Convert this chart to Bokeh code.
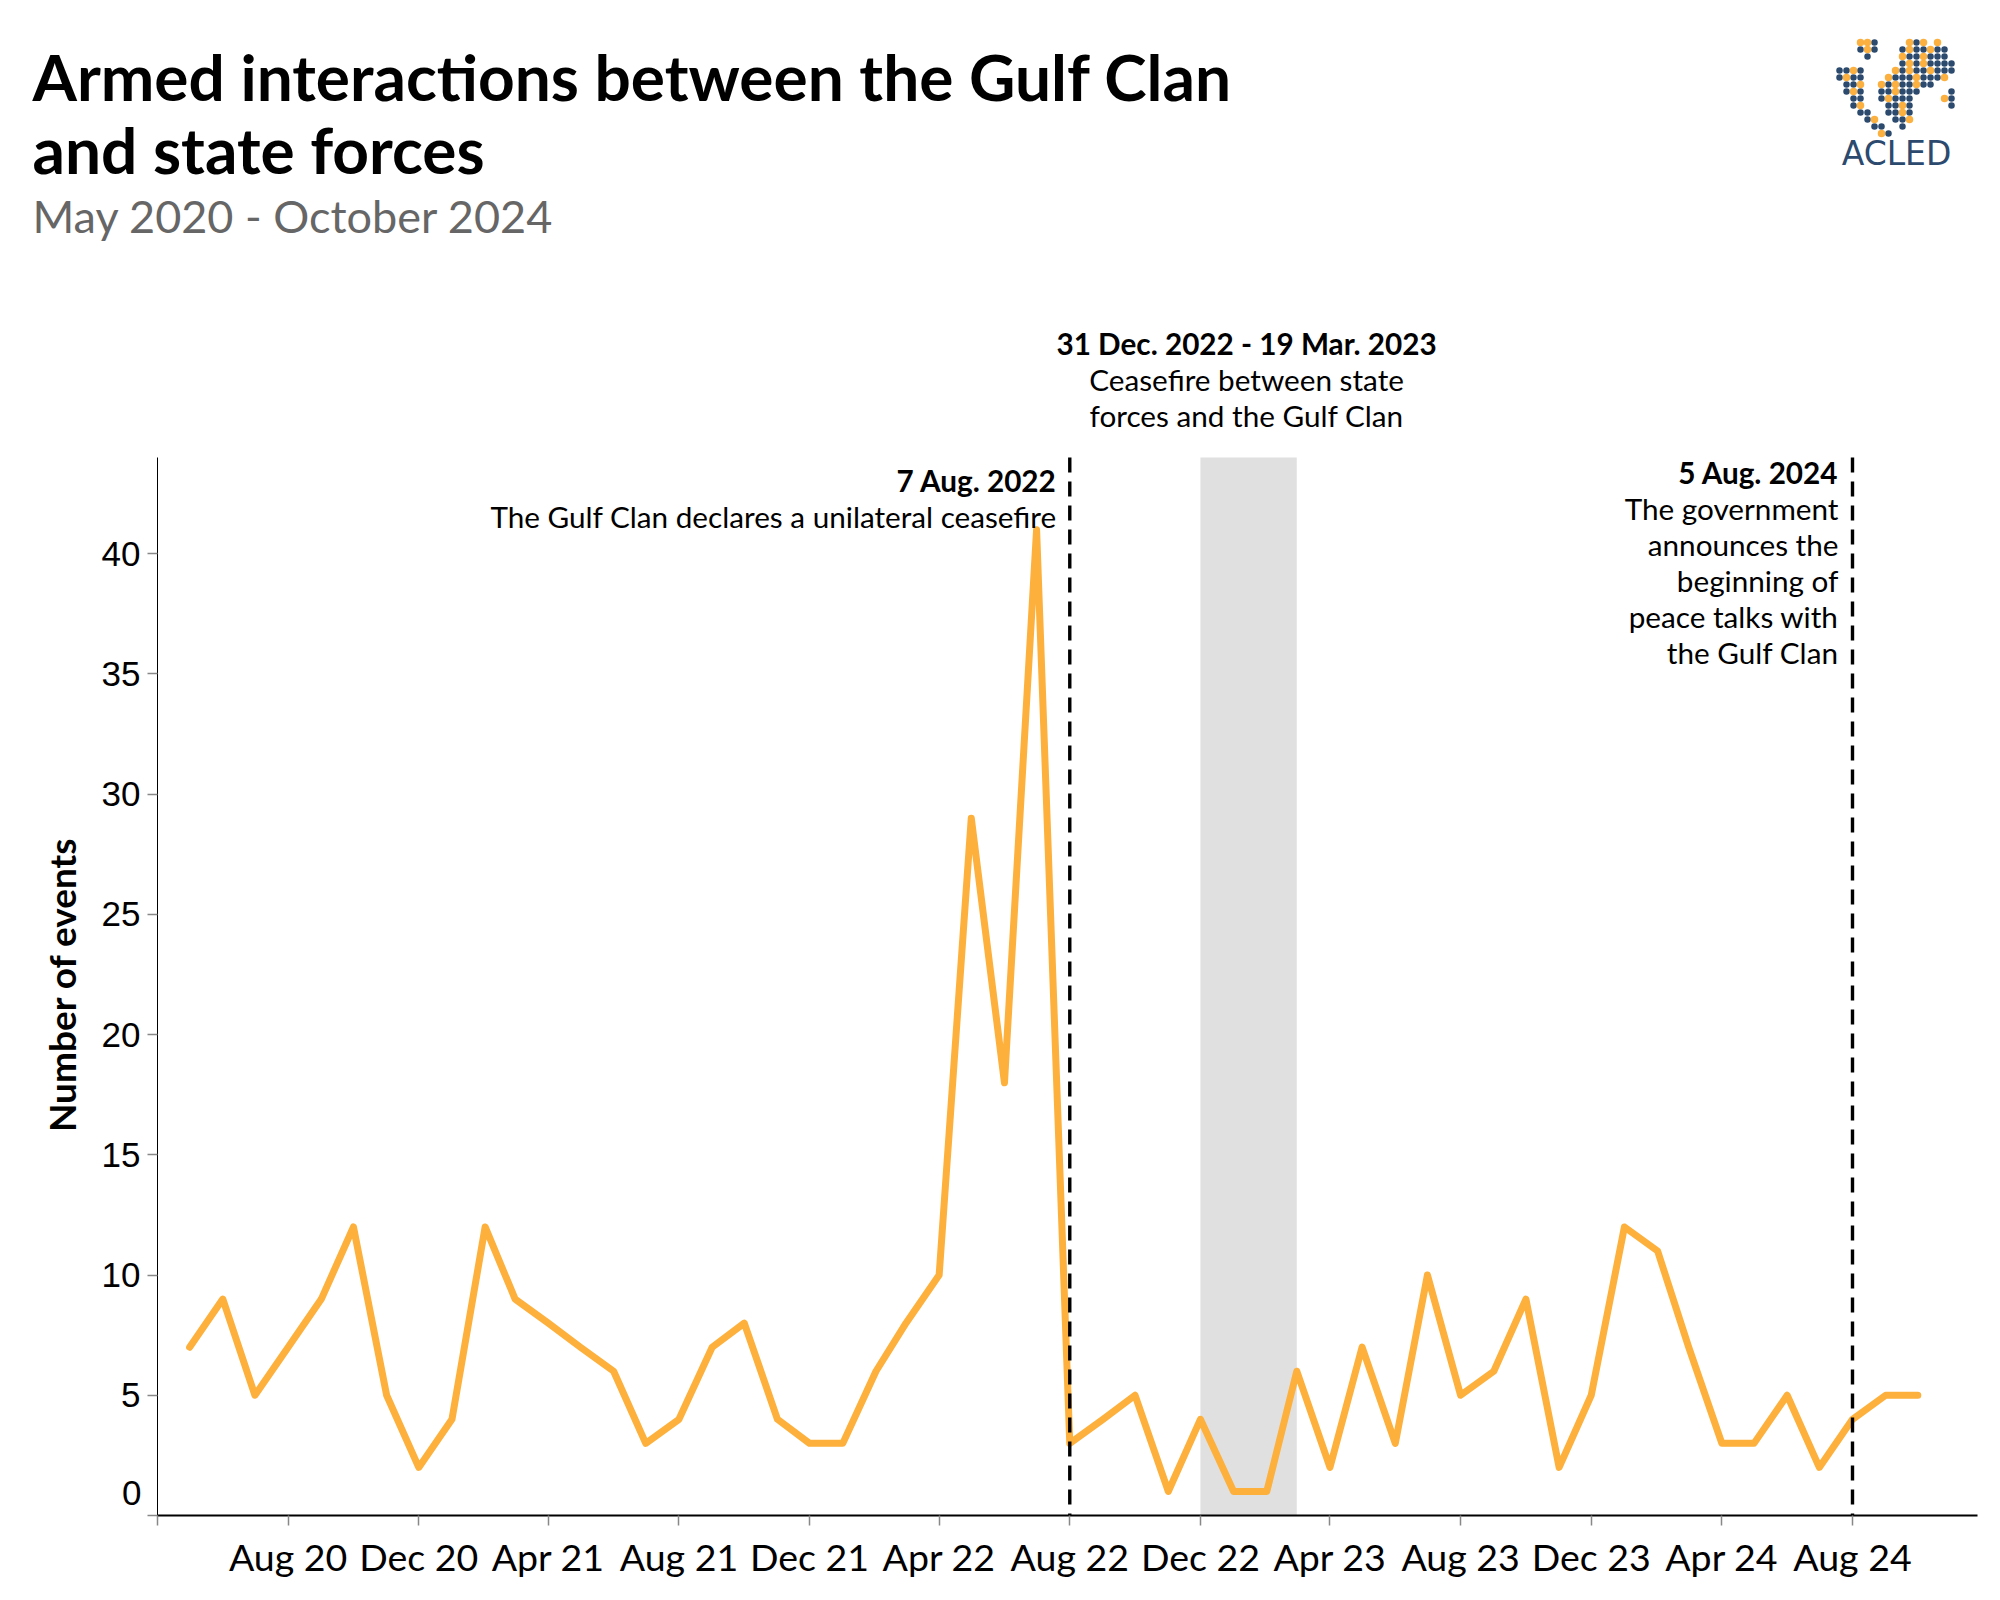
import datetime as dt
import pandas as pd
from bokeh.plotting import figure
from bokeh.models import Range1d, FixedTicker, DatetimeTickFormatter, ColumnDataSource
from bokeh.core.properties import value
from bokeh.embed import file_html
from bokeh.resources import INLINE

# ---------------- data ----------------
first_month = "2020-05-01"
events = [7, 9, 5, 7, 9, 12, 5, 2,                      # 2020 May-Dec
          4, 12, 9, 8, 7, 6, 3, 4, 7, 8, 4, 3,          # 2021
          3, 6, 8, 10, 29, 18, 41, 3, 4, 5, 1, 4,       # 2022
          1, 1, 6, 2, 7, 3, 10, 5, 6, 9, 2, 5,          # 2023
          12, 11, 7, 3, 3, 5, 2, 4, 5, 5]               # 2024 Jan-Oct
months = list(pd.date_range(first_month, periods=len(events), freq="MS"))

event_dates = ["2022-08-01", "2024-08-01"]
ceasefire = ["2022-12-01", "2023-03-01"]
tick_dates = ["2020-04-01", "2020-08-01", "2020-12-01", "2021-04-01", "2021-08-01",
              "2021-12-01", "2022-04-01", "2022-08-01", "2022-12-01", "2023-04-01",
              "2023-08-01", "2023-12-01", "2024-04-01", "2024-08-01"]
y_ticks = [0, 5, 10, 15, 20, 25, 30, 35, 40]
y_axis_top = 44

title_lines = ["Armed interactions between the Gulf Clan", "and state forces"]
subtitle = "May 2020 - October 2024"
y_title = "Number of events"
ann1_head = "7 Aug. 2022"
ann1_body = ["The Gulf Clan declares a unilateral ceasefire"]
ann2_head = "31 Dec. 2022 - 19 Mar. 2023"
ann2_body = ["Ceasefire between state", "forces and the Gulf Clan"]
ann3_head = "5 Aug. 2024"
ann3_body = ["The government", "announces the", "beginning of", "peace talks with", "the Gulf Clan"]

# decorative ACLED logo (dotted world map): '#' navy dot, 'o' orange dot
logo_mask = [
    "...oo#....o#o.o..",
    "...#o#...#o##o##.",
    "....#....o##o###.",
    ".........#o#o####",
    "##o#....o#o##o###",
    "#o##...o###o###o.",
    ".##o..o#o##o##...",
    ".#o#..##o###....#",
    "..##..#o###....o#",
    "..#o...##o#.....#",
    "...##..##o#......",
    "....#o..##o......",
    ".....##..#.......",
    "......o#.........",
]

# ---------------- geometry helpers (image px -> data) ----------------
EPOCH = dt.datetime(1970, 1, 1)
def ms(d):
    return (pd.Timestamp(d).to_pydatetime() - EPOCH).total_seconds() * 1000.0

X0 = ms("2020-04-01")
PX_LEFT, PX_RIGHT = 157, 1977
PX_PER_DAY = 1.07075
PX_BOTTOM = 1515
PX_PER_UNIT = 24.045
DAY = 86400000.0

def xv(px):
    return X0 + (px - PX_LEFT) / PX_PER_DAY * DAY

def yv(py):
    return (PX_BOTTOM - py) / PX_PER_UNIT

def xpx(d):
    return PX_LEFT + (ms(d) - X0) / DAY * PX_PER_DAY

W, H = 1992, 1592
p = figure(width=W, height=H, x_axis_type="datetime", output_backend="svg",
           toolbar_location=None,
           x_range=Range1d(xv(0), xv(W)), y_range=Range1d(yv(H), yv(0)))
p.min_border_top = 0
p.min_border_left = 0
p.min_border_right = 0
p.min_border_bottom = 0
p.outline_line_color = None
p.xgrid.visible = False
p.ygrid.visible = False
p.background_fill_color = "white"
p.border_fill_color = "white"

# shading
p.quad(left=[pd.Timestamp(ceasefire[0])], right=[pd.Timestamp(ceasefire[1])],
       bottom=[0], top=[y_axis_top], fill_color="#E0E0E0", line_color=None)

# line
src = ColumnDataSource(dict(month=months, events=events))
p.line("month", "events", source=src, line_color="#FDB03B", line_width=7,
       line_join="round", line_cap="round")

# dashed event lines
ed = [pd.Timestamp(d) for d in event_dates]
p.segment(x0=ed, y0=[y_axis_top] * len(ed), x1=ed, y1=[0] * len(ed),
          line_color="black", line_width=3.4, line_dash="15 9")

# axes
xa = p.xaxis[0]
xa.fixed_location = 0
xa.bounds = (X0, xv(PX_RIGHT))
xa.ticker = FixedTicker(ticks=[ms(d) for d in tick_dates])
fmt = "%b %y"
xa.formatter = DatetimeTickFormatter(days=fmt, months=fmt, years=fmt, hours=fmt,
                                     minutes=fmt, seconds=fmt, milliseconds=fmt,
                                     microseconds=fmt, minsec=fmt, hourmin=fmt)
xa.major_label_overrides = {int(ms(tick_dates[0])): ""}
xa.major_label_text_font = "Lato"
xa.major_label_text_font_size = "37.5px"
xa.major_label_text_color = "black"
xa.major_label_standoff = 8
xa.axis_line_color = "black"
xa.axis_line_width = 2
xa.major_tick_line_color = "#888888"
xa.major_tick_line_width = 1.5
xa.major_tick_out = 10
xa.major_tick_in = 0
xa.minor_tick_line_color = None

ya = p.yaxis[0]
ya.fixed_location = X0
ya.ticker = FixedTicker(ticks=y_ticks)
ya.bounds = (0, y_axis_top)
ya.major_label_overrides = {0: ""}
ya.major_label_text_font = "Liberation Sans"
ya.major_label_text_font_size = "35px"
ya.major_label_text_color = "black"
ya.major_label_standoff = 7
ya.axis_line_color = "black"
ya.axis_line_width = 1
ya.major_tick_line_color = "#888888"
ya.major_tick_line_width = 1.5
ya.major_tick_out = 10
ya.major_tick_in = 0
ya.minor_tick_line_color = None

def txt(texts, pxs, pys, size, style="normal", align="left", font="Lato", color="black",
        baseline="alphabetic", angle=0.0):
    # pys are measured baselines; correct for the renderer's baseline offset
    shift = 0.4 * size if baseline == "alphabetic" else 0.0
    p.text(x=[xv(v) for v in pxs], y=[yv(v - shift) for v in pys], text=texts,
           text_font=value(font), text_font_size=value(f"{size}px"),
           text_font_style=style, text_align=align, text_baseline=baseline,
           text_color=color, angle=angle)

# flush "0" label
txt(["0"], [141], [1492], 35, font="Liberation Sans", align="right", baseline="middle")

# y axis title
txt([y_title], [61], [984], 37, style="bold", align="center", baseline="middle",
    angle=1.5707963)

# titles
txt(title_lines, [32, 32], [102, 175], 64, style="bold")
txt([subtitle], [32], [233], 45, color="#666666")

# annotations
ANN = 29.7
LH = 36
x1 = xpx(event_dates[0]) - 13
txt([ann1_head], [x1], [491.5], ANN, style="bold", align="right")
txt(ann1_body, [x1] * len(ann1_body), [527.5 + i * LH for i in range(len(ann1_body))],
    ANN, align="right")

cx = (xpx(ceasefire[0]) + xpx(ceasefire[1])) / 2
txt([ann2_head], [cx - 2], [355], ANN, style="bold", align="center")
txt(ann2_body, [cx - 2] * len(ann2_body), [391 + i * LH for i in range(len(ann2_body))],
    ANN, align="center")

x3 = xpx(event_dates[1]) - 14
txt([ann3_head], [x3], [483.5], ANN, style="bold", align="right")
txt(ann3_body, [x3] * len(ann3_body), [519.5 + i * LH for i in range(len(ann3_body))],
    ANN, align="right")

# logo
lx, ly, lx_c, ly_c = [], [], [], []
CELL = 7.0
for r, row in enumerate(logo_mask):
    for c, ch in enumerate(row):
        if ch == "#":
            lx.append(xv(1839 + c * CELL)); ly.append(yv(42 + r * CELL))
        elif ch == "o":
            lx_c.append(xv(1839 + c * CELL)); ly_c.append(yv(42 + r * CELL))
p.scatter(lx, ly, size=6.5, color="#2C4A6E", line_color=None)
p.scatter(lx_c, ly_c, size=7.5, color="#FBB040", line_color=None)
txt(["ACLED"], [1896], [166], 33, font="DejaVu Sans", align="center", color="#2C4A6E")

open("out.html", "w").write(file_html(p, INLINE))
